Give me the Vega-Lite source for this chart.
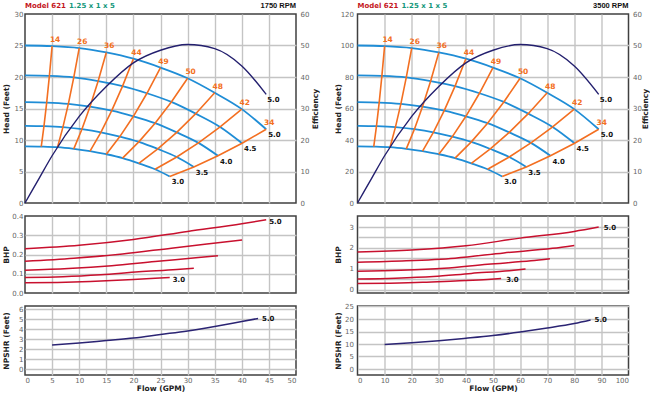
{
  "$schema": "https://vega.github.io/schema/vega-lite/v6.json",
  "background": "white",
  "padding": {"left": 1, "top": 1, "right": 0, "bottom": 0},
  "spacing": 13.5,
  "datasets": {
    "h1": [
      {"d": "5.0", "i": 0, "q": 0, "h": 25}, {"d": "5.0", "i": 1, "q": 5, "h": 24.9}, {"d": "5.0", "i": 2, "q": 10, "h": 24.6}, {"d": "5.0", "i": 3, "q": 15, "h": 23.9}, {"d": "5.0", "i": 4, "q": 20, "h": 22.9}, {"d": "5.0", "i": 5, "q": 25, "h": 21.5}, {"d": "5.0", "i": 6, "q": 30, "h": 19.8}, {"d": "5.0", "i": 7, "q": 35, "h": 17.5}, {"d": "5.0", "i": 8, "q": 40, "h": 14.9}, {"d": "5.0", "i": 9, "q": 44.5, "h": 11.7},
      {"d": "4.5", "i": 0, "q": 0, "h": 20.25}, {"d": "4.5", "i": 1, "q": 4.5, "h": 20.17}, {"d": "4.5", "i": 2, "q": 9, "h": 19.93}, {"d": "4.5", "i": 3, "q": 13.5, "h": 19.36}, {"d": "4.5", "i": 4, "q": 18, "h": 18.55}, {"d": "4.5", "i": 5, "q": 22.5, "h": 17.42}, {"d": "4.5", "i": 6, "q": 27, "h": 16.04}, {"d": "4.5", "i": 7, "q": 31.5, "h": 14.18}, {"d": "4.5", "i": 8, "q": 36, "h": 12.07}, {"d": "4.5", "i": 9, "q": 40.05, "h": 9.48},
      {"d": "4.0", "i": 0, "q": 0, "h": 16}, {"d": "4.0", "i": 1, "q": 4, "h": 15.94}, {"d": "4.0", "i": 2, "q": 8, "h": 15.74}, {"d": "4.0", "i": 3, "q": 12, "h": 15.3}, {"d": "4.0", "i": 4, "q": 16, "h": 14.66}, {"d": "4.0", "i": 5, "q": 20, "h": 13.76}, {"d": "4.0", "i": 6, "q": 24, "h": 12.67}, {"d": "4.0", "i": 7, "q": 28, "h": 11.2}, {"d": "4.0", "i": 8, "q": 32, "h": 9.54}, {"d": "4.0", "i": 9, "q": 35.6, "h": 7.49},
      {"d": "3.5", "i": 0, "q": 0, "h": 12.25}, {"d": "3.5", "i": 1, "q": 3.5, "h": 12.2}, {"d": "3.5", "i": 2, "q": 7, "h": 12.05}, {"d": "3.5", "i": 3, "q": 10.5, "h": 11.71}, {"d": "3.5", "i": 4, "q": 14, "h": 11.22}, {"d": "3.5", "i": 5, "q": 17.5, "h": 10.54}, {"d": "3.5", "i": 6, "q": 21, "h": 9.7}, {"d": "3.5", "i": 7, "q": 24.5, "h": 8.58}, {"d": "3.5", "i": 8, "q": 28, "h": 7.3}, {"d": "3.5", "i": 9, "q": 31.15, "h": 5.73},
      {"d": "3.0", "i": 0, "q": 0, "h": 9}, {"d": "3.0", "i": 1, "q": 3, "h": 8.96}, {"d": "3.0", "i": 2, "q": 6, "h": 8.86}, {"d": "3.0", "i": 3, "q": 9, "h": 8.6}, {"d": "3.0", "i": 4, "q": 12, "h": 8.24}, {"d": "3.0", "i": 5, "q": 15, "h": 7.74}, {"d": "3.0", "i": 6, "q": 18, "h": 7.13}, {"d": "3.0", "i": 7, "q": 21, "h": 6.3}, {"d": "3.0", "i": 8, "q": 24, "h": 5.36}, {"d": "3.0", "i": 9, "q": 26.7, "h": 4.21}
    ],
    "h2": [
      {"d": "5.0", "i": 0, "q": 0, "h": 100}, {"d": "5.0", "i": 1, "q": 10, "h": 99.6}, {"d": "5.0", "i": 2, "q": 20, "h": 98.4}, {"d": "5.0", "i": 3, "q": 30, "h": 95.6}, {"d": "5.0", "i": 4, "q": 40, "h": 91.6}, {"d": "5.0", "i": 5, "q": 50, "h": 86}, {"d": "5.0", "i": 6, "q": 60, "h": 79.2}, {"d": "5.0", "i": 7, "q": 70, "h": 70}, {"d": "5.0", "i": 8, "q": 80, "h": 59.6}, {"d": "5.0", "i": 9, "q": 89, "h": 46.8},
      {"d": "4.5", "i": 0, "q": 0, "h": 81}, {"d": "4.5", "i": 1, "q": 9, "h": 80.68}, {"d": "4.5", "i": 2, "q": 18, "h": 79.72}, {"d": "4.5", "i": 3, "q": 27, "h": 77.44}, {"d": "4.5", "i": 4, "q": 36, "h": 74.2}, {"d": "4.5", "i": 5, "q": 45, "h": 69.68}, {"d": "4.5", "i": 6, "q": 54, "h": 64.16}, {"d": "4.5", "i": 7, "q": 63, "h": 56.72}, {"d": "4.5", "i": 8, "q": 72, "h": 48.28}, {"d": "4.5", "i": 9, "q": 80.1, "h": 37.92},
      {"d": "4.0", "i": 0, "q": 0, "h": 64}, {"d": "4.0", "i": 1, "q": 8, "h": 63.76}, {"d": "4.0", "i": 2, "q": 16, "h": 62.96}, {"d": "4.0", "i": 3, "q": 24, "h": 61.2}, {"d": "4.0", "i": 4, "q": 32, "h": 58.64}, {"d": "4.0", "i": 5, "q": 40, "h": 55.04}, {"d": "4.0", "i": 6, "q": 48, "h": 50.68}, {"d": "4.0", "i": 7, "q": 56, "h": 44.8}, {"d": "4.0", "i": 8, "q": 64, "h": 38.16}, {"d": "4.0", "i": 9, "q": 71.2, "h": 29.96},
      {"d": "3.5", "i": 0, "q": 0, "h": 49}, {"d": "3.5", "i": 1, "q": 7, "h": 48.8}, {"d": "3.5", "i": 2, "q": 14, "h": 48.2}, {"d": "3.5", "i": 3, "q": 21, "h": 46.84}, {"d": "3.5", "i": 4, "q": 28, "h": 44.88}, {"d": "3.5", "i": 5, "q": 35, "h": 42.16}, {"d": "3.5", "i": 6, "q": 42, "h": 38.8}, {"d": "3.5", "i": 7, "q": 49, "h": 34.3}, {"d": "3.5", "i": 8, "q": 56, "h": 29.2}, {"d": "3.5", "i": 9, "q": 62.3, "h": 22.92},
      {"d": "3.0", "i": 0, "q": 0, "h": 36}, {"d": "3.0", "i": 1, "q": 6, "h": 35.84}, {"d": "3.0", "i": 2, "q": 12, "h": 35.44}, {"d": "3.0", "i": 3, "q": 18, "h": 34.4}, {"d": "3.0", "i": 4, "q": 24, "h": 32.96}, {"d": "3.0", "i": 5, "q": 30, "h": 30.96}, {"d": "3.0", "i": 6, "q": 36, "h": 28.52}, {"d": "3.0", "i": 7, "q": 42, "h": 25.2}, {"d": "3.0", "i": 8, "q": 48, "h": 21.44}, {"d": "3.0", "i": 9, "q": 53.4, "h": 16.84}
    ],
    "l1": [
      {"q": 5, "h": 24.9, "t": "14"}, {"q": 10, "h": 24.6, "t": "26"}, {"q": 15, "h": 23.9, "t": "36"}, {"q": 20, "h": 22.9, "t": "44"}, {"q": 25, "h": 21.5, "t": "49"}, {"q": 30, "h": 19.8, "t": "50"}, {"q": 35, "h": 17.5, "t": "48"}, {"q": 40, "h": 14.9, "t": "42"}, {"q": 44.5, "h": 11.7, "t": "34"}
    ],
    "l2": [
      {"q": 10, "h": 99.6, "t": "14"}, {"q": 20, "h": 98.4, "t": "26"}, {"q": 30, "h": 95.6, "t": "36"}, {"q": 40, "h": 91.6, "t": "44"}, {"q": 50, "h": 86, "t": "49"}, {"q": 60, "h": 79.2, "t": "50"}, {"q": 70, "h": 70, "t": "48"}, {"q": 80, "h": 59.6, "t": "42"}, {"q": 89, "h": 46.8, "t": "34"}
    ],
    "e1": [
      {"q": 0, "e": 0}, {"q": 2.5, "e": 7.5}, {"q": 5, "e": 15}, {"q": 10, "e": 27.5}, {"q": 15, "e": 37}, {"q": 20, "e": 44.5}, {"q": 25, "e": 48.5}, {"q": 30, "e": 50.3}, {"q": 35, "e": 49}, {"q": 40, "e": 43.5}, {"q": 44.5, "e": 34.5}
    ],
    "e2": [
      {"q": 0, "e": 0}, {"q": 5, "e": 7.5}, {"q": 10, "e": 15}, {"q": 20, "e": 27.5}, {"q": 30, "e": 37}, {"q": 40, "e": 44.5}, {"q": 50, "e": 48.5}, {"q": 60, "e": 50.3}, {"q": 70, "e": 49}, {"q": 80, "e": 43.5}, {"q": 89, "e": 34.5}
    ],
    "b1": [
      {"d": "5.0", "q": 0, "p": 0.23}, {"d": "5.0", "q": 10, "p": 0.248}, {"d": "5.0", "q": 20, "p": 0.278}, {"d": "5.0", "q": 30, "p": 0.32}, {"d": "5.0", "q": 40, "p": 0.36}, {"d": "5.0", "q": 44.5, "p": 0.38},
      {"d": "4.5", "q": 0, "p": 0.165}, {"d": "4.5", "q": 9, "p": 0.181}, {"d": "4.5", "q": 18, "p": 0.203}, {"d": "4.5", "q": 27, "p": 0.233}, {"d": "4.5", "q": 36, "p": 0.262}, {"d": "4.5", "q": 40.05, "p": 0.275},
      {"d": "4.0", "q": 0, "p": 0.118}, {"d": "4.0", "q": 8, "p": 0.127}, {"d": "4.0", "q": 16, "p": 0.142}, {"d": "4.0", "q": 24, "p": 0.164}, {"d": "4.0", "q": 32, "p": 0.184}, {"d": "4.0", "q": 35.6, "p": 0.194},
      {"d": "3.5", "q": 0, "p": 0.081}, {"d": "3.5", "q": 7, "p": 0.085}, {"d": "3.5", "q": 14, "p": 0.095}, {"d": "3.5", "q": 21, "p": 0.11}, {"d": "3.5", "q": 28, "p": 0.122}, {"d": "3.5", "q": 31.15, "p": 0.129},
      {"d": "3.0", "q": 0, "p": 0.053}, {"d": "3.0", "q": 6, "p": 0.055}, {"d": "3.0", "q": 12, "p": 0.06}, {"d": "3.0", "q": 18, "p": 0.068}, {"d": "3.0", "q": 24, "p": 0.076}, {"d": "3.0", "q": 26.7, "p": 0.08}
    ],
    "b2": [
      {"d": "5.0", "q": 0, "p": 1.8}, {"d": "5.0", "q": 20, "p": 1.9}, {"d": "5.0", "q": 40, "p": 2.1}, {"d": "5.0", "q": 60, "p": 2.47}, {"d": "5.0", "q": 80, "p": 2.79}, {"d": "5.0", "q": 89, "p": 3.0},
      {"d": "4.5", "q": 0, "p": 1.31}, {"d": "4.5", "q": 18, "p": 1.38}, {"d": "4.5", "q": 36, "p": 1.51}, {"d": "4.5", "q": 54, "p": 1.76}, {"d": "4.5", "q": 72, "p": 1.98}, {"d": "4.5", "q": 80, "p": 2.12},
      {"d": "4.0", "q": 0, "p": 0.88}, {"d": "4.0", "q": 16, "p": 0.93}, {"d": "4.0", "q": 32, "p": 1.03}, {"d": "4.0", "q": 48, "p": 1.22}, {"d": "4.0", "q": 64, "p": 1.38}, {"d": "4.0", "q": 71, "p": 1.48},
      {"d": "3.5", "q": 0, "p": 0.51}, {"d": "3.5", "q": 14, "p": 0.55}, {"d": "3.5", "q": 28, "p": 0.63}, {"d": "3.5", "q": 42, "p": 0.78}, {"d": "3.5", "q": 56, "p": 0.91}, {"d": "3.5", "q": 62, "p": 0.99},
      {"d": "3.0", "q": 0, "p": 0.29}, {"d": "3.0", "q": 12, "p": 0.31}, {"d": "3.0", "q": 24, "p": 0.35}, {"d": "3.0", "q": 36, "p": 0.42}, {"d": "3.0", "q": 48, "p": 0.49}, {"d": "3.0", "q": 53, "p": 0.53}
    ],
    "n1": [
      {"q": 5, "n": 2.4}, {"q": 10, "n": 2.6}, {"q": 15, "n": 2.85}, {"q": 20, "n": 3.1}, {"q": 25, "n": 3.45}, {"q": 30, "n": 3.8}, {"q": 35, "n": 4.25}, {"q": 40, "n": 4.75}, {"q": 43, "n": 5.05}
    ],
    "n2": [
      {"q": 10, "n": 9.8}, {"q": 20, "n": 10.5}, {"q": 30, "n": 11.3}, {"q": 40, "n": 12.3}, {"q": 50, "n": 13.4}, {"q": 60, "n": 14.8}, {"q": 70, "n": 16.4}, {"q": 80, "n": 18.2}, {"q": 86, "n": 19.6}
    ]
  },
  "hconcat": [
    {
      "spacing": 13,
      "bounds": "flush",
      "vconcat": [
        {
          "width": 271,
          "height": 189,
          "layer": [
            {
              "layer": [
                {
                  "data": {"name": "h1"},
                  "mark": {"type": "line", "color": "#1f8dd6", "strokeWidth": 1.8, "interpolate": "monotone"},
                  "encoding": {
                    "x": {"field": "q", "type": "quantitative", "scale": {"domain": [0, 50], "nice": false, "zero": false},
                      "axis": {"values": [5, 10, 15, 20, 25, 30, 35, 40, 45], "tickCount": 50, "labels": false, "title": null}},
                    "y": {"field": "h", "type": "quantitative", "scale": {"domain": [0, 30], "nice": false},
                      "axis": {"values": [0, 5, 10, 15, 20, 25, 30], "tickCount": 50, "format": "d", "title": "Head (Feet)", "titleX": -19,
                        "gridOpacity": {"condition": {"test": "datum.value <= 0 || datum.value >= 30", "value": 0}, "value": 1}}},
                    "detail": {"field": "d", "type": "nominal"}
                  }
                },
                {
                  "data": {"name": "h1"},
                  "transform": [{"filter": "datum.i > 0"}],
                  "mark": {"type": "line", "color": "#f36f21", "strokeWidth": 1.6},
                  "encoding": {
                    "x": {"field": "q", "type": "quantitative"},
                    "y": {"field": "h", "type": "quantitative"},
                    "detail": {"field": "i", "type": "nominal"}
                  }
                },
                {
                  "data": {"name": "l1"},
                  "mark": {"type": "text", "color": "#f36f21", "fontSize": 7.5, "align": "center", "baseline": "middle", "dx": 3, "dy": -6},
                  "encoding": {
                    "x": {"field": "q", "type": "quantitative"},
                    "y": {"field": "h", "type": "quantitative"},
                    "text": {"field": "t"}
                  }
                },
                {
                  "data": {"name": "h1"},
                  "transform": [{"filter": "datum.i == 9"}],
                  "mark": {"type": "text", "color": "#111111", "align": "left", "baseline": "top", "dx": 2, "dy": 2},
                  "encoding": {
                    "x": {"field": "q", "type": "quantitative"},
                    "y": {"field": "h", "type": "quantitative"},
                    "text": {"field": "d"}
                  }
                },
                {
                  "data": {"values": [{"q": 0, "h": 30, "t": "Model 621"}]},
                  "mark": {"type": "text", "color": "#c4161c", "align": "left", "baseline": "middle", "dy": -8},
                  "encoding": {"x": {"field": "q", "type": "quantitative"}, "y": {"field": "h", "type": "quantitative"}, "text": {"field": "t"}}
                },
                {
                  "data": {"values": [{"q": 0, "h": 30, "t": "1.25 x 1 x 5"}]},
                  "mark": {"type": "text", "color": "#14977b", "align": "left", "baseline": "middle", "dy": -8, "dx": 44},
                  "encoding": {"x": {"field": "q", "type": "quantitative"}, "y": {"field": "h", "type": "quantitative"}, "text": {"field": "t"}}
                },
                {
                  "data": {"values": [{"q": 50, "h": 30, "t": "1750 RPM"}]},
                  "mark": {"type": "text", "color": "#111111", "align": "right", "baseline": "middle", "dy": -8, "font": "Liberation Sans", "fontSize": 7.5},
                  "encoding": {"x": {"field": "q", "type": "quantitative"}, "y": {"field": "h", "type": "quantitative"}, "text": {"field": "t"}}
                }
              ]
            },
            {
              "layer": [
                {
                  "data": {"name": "e1"},
                  "mark": {"type": "line", "color": "#231f6e", "strokeWidth": 1.4, "interpolate": "monotone"},
                  "encoding": {
                    "x": {"field": "q", "type": "quantitative"},
                    "y": {"field": "e", "type": "quantitative", "scale": {"domain": [0, 60], "nice": false},
                      "axis": {"orient": "right", "values": [0, 10, 20, 30, 40, 50, 60], "tickCount": 50, "format": "d", "grid": false, "title": "Efficiency", "titleX": 19, "titleAngle": 270, "labelPadding": 4}}
                  }
                },
                {
                  "data": {"name": "e1"},
                  "transform": [{"filter": "datum.q == 44.5"}],
                  "mark": {"type": "text", "color": "#111111", "align": "left", "baseline": "top", "dx": 1, "dy": 2},
                  "encoding": {
                    "x": {"field": "q", "type": "quantitative"},
                    "y": {"field": "e", "type": "quantitative"},
                    "text": {"value": "5.0"}
                  }
                }
              ]
            }
          ],
          "resolve": {"scale": {"y": "independent"}}
        },
        {
          "width": 271,
          "height": 77,
          "layer": [
            {
              "data": {"name": "b1"},
              "mark": {"type": "line", "color": "#c8102e", "strokeWidth": 1.5, "interpolate": "monotone"},
              "encoding": {
                "x": {"field": "q", "type": "quantitative", "scale": {"domain": [0, 50], "nice": false, "zero": false},
                  "axis": {"values": [5, 10, 15, 20, 25, 30, 35, 40, 45], "tickCount": 50, "labels": false, "title": null}},
                "y": {"field": "p", "type": "quantitative", "scale": {"domain": [0, 0.4], "nice": false},
                  "axis": {"values": [0, 0.1, 0.2, 0.3, 0.4], "tickCount": 50, "format": ".1f", "title": "BHP", "titleX": -19,
                    "gridOpacity": {"condition": {"test": "datum.value <= 0 || datum.value >= 0.4", "value": 0}, "value": 1}}},
                "detail": {"field": "d", "type": "nominal"}
              }
            },
            {
              "data": {"name": "b1"},
              "transform": [
                {"joinaggregate": [{"op": "max", "field": "q", "as": "mq"}], "groupby": ["d"]},
                {"filter": "datum.q == datum.mq && (datum.d == '5.0' || datum.d == '3.0')"}
              ],
              "mark": {"type": "text", "color": "#111111", "align": "left", "baseline": "middle", "dx": 3, "dy": 2},
              "encoding": {
                "x": {"field": "q", "type": "quantitative"},
                "y": {"field": "p", "type": "quantitative"},
                "text": {"field": "d"}
              }
            }
          ]
        },
        {
          "width": 271,
          "height": 69,
          "layer": [
            {
              "data": {"name": "n1"},
              "mark": {"type": "line", "color": "#2b2473", "strokeWidth": 1.5, "interpolate": "monotone"},
              "encoding": {
                "x": {"field": "q", "type": "quantitative", "scale": {"domain": [0, 50], "nice": false, "zero": false},
                  "axis": {"values": [0, 5, 10, 15, 20, 25, 30, 35, 40, 45, 50], "tickCount": 50, "format": "d", "title": "Flow (GPM)", "labelPadding": 1, "titlePadding": 1,
                    "gridOpacity": {"condition": {"test": "datum.value <= 0 || datum.value >= 50", "value": 0}, "value": 1}}},
                "y": {"field": "n", "type": "quantitative", "scale": {"domain": [-0.6, 6.3], "nice": false, "zero": false},
                  "axis": {"values": [0, 1, 2, 3, 4, 5, 6], "tickCount": 50, "format": "d", "title": "NPSHR (Feet)", "titleX": -19}}
              }
            },
            {
              "data": {"name": "n1"},
              "transform": [{"filter": "datum.q == 43"}],
              "mark": {"type": "text", "color": "#111111", "align": "left", "baseline": "middle", "dx": 4, "dy": 0},
              "encoding": {
                "x": {"field": "q", "type": "quantitative"},
                "y": {"field": "n", "type": "quantitative"},
                "text": {"value": "5.0"}
              }
            }
          ]
        }
      ]
    },
    {
      "spacing": 13,
      "bounds": "flush",
      "vconcat": [
        {
          "width": 271,
          "height": 189,
          "layer": [
            {
              "layer": [
                {
                  "data": {"name": "h2"},
                  "mark": {"type": "line", "color": "#1f8dd6", "strokeWidth": 1.8, "interpolate": "monotone"},
                  "encoding": {
                    "x": {"field": "q", "type": "quantitative", "scale": {"domain": [0, 100], "nice": false, "zero": false},
                      "axis": {"values": [10, 20, 30, 40, 50, 60, 70, 80, 90], "tickCount": 50, "labels": false, "title": null}},
                    "y": {"field": "h", "type": "quantitative", "scale": {"domain": [0, 120], "nice": false},
                      "axis": {"values": [0, 20, 40, 60, 80, 100, 120], "tickCount": 50, "format": "d", "title": "Head (Feet)", "titleX": -19, "labelPadding": 4,
                        "gridOpacity": {"condition": {"test": "datum.value <= 0 || datum.value >= 120", "value": 0}, "value": 1}}},
                    "detail": {"field": "d", "type": "nominal"}
                  }
                },
                {
                  "data": {"name": "h2"},
                  "transform": [{"filter": "datum.i > 0"}],
                  "mark": {"type": "line", "color": "#f36f21", "strokeWidth": 1.6},
                  "encoding": {
                    "x": {"field": "q", "type": "quantitative"},
                    "y": {"field": "h", "type": "quantitative"},
                    "detail": {"field": "i", "type": "nominal"}
                  }
                },
                {
                  "data": {"name": "l2"},
                  "mark": {"type": "text", "color": "#f36f21", "fontSize": 7.5, "align": "center", "baseline": "middle", "dx": 3, "dy": -6},
                  "encoding": {
                    "x": {"field": "q", "type": "quantitative"},
                    "y": {"field": "h", "type": "quantitative"},
                    "text": {"field": "t"}
                  }
                },
                {
                  "data": {"name": "h2"},
                  "transform": [{"filter": "datum.i == 9"}],
                  "mark": {"type": "text", "color": "#111111", "align": "left", "baseline": "top", "dx": 2, "dy": 2},
                  "encoding": {
                    "x": {"field": "q", "type": "quantitative"},
                    "y": {"field": "h", "type": "quantitative"},
                    "text": {"field": "d"}
                  }
                },
                {
                  "data": {"values": [{"q": 0, "h": 120, "t": "Model 621"}]},
                  "mark": {"type": "text", "color": "#c4161c", "align": "left", "baseline": "middle", "dy": -8},
                  "encoding": {"x": {"field": "q", "type": "quantitative"}, "y": {"field": "h", "type": "quantitative"}, "text": {"field": "t"}}
                },
                {
                  "data": {"values": [{"q": 0, "h": 120, "t": "1.25 x 1 x 5"}]},
                  "mark": {"type": "text", "color": "#14977b", "align": "left", "baseline": "middle", "dy": -8, "dx": 44},
                  "encoding": {"x": {"field": "q", "type": "quantitative"}, "y": {"field": "h", "type": "quantitative"}, "text": {"field": "t"}}
                },
                {
                  "data": {"values": [{"q": 100, "h": 120, "t": "3500 RPM"}]},
                  "mark": {"type": "text", "color": "#111111", "align": "right", "baseline": "middle", "dy": -8, "font": "Liberation Sans", "fontSize": 7.5},
                  "encoding": {"x": {"field": "q", "type": "quantitative"}, "y": {"field": "h", "type": "quantitative"}, "text": {"field": "t"}}
                }
              ]
            },
            {
              "layer": [
                {
                  "data": {"name": "e2"},
                  "mark": {"type": "line", "color": "#231f6e", "strokeWidth": 1.4, "interpolate": "monotone"},
                  "encoding": {
                    "x": {"field": "q", "type": "quantitative"},
                    "y": {"field": "e", "type": "quantitative", "scale": {"domain": [0, 60], "nice": false},
                      "axis": {"orient": "right", "values": [0, 10, 20, 30, 40, 50, 60], "tickCount": 50, "format": "d", "grid": false, "title": "Efficiency", "titleX": 17, "titleAngle": 270, "labelPadding": 4}}
                  }
                },
                {
                  "data": {"name": "e2"},
                  "transform": [{"filter": "datum.q == 89"}],
                  "mark": {"type": "text", "color": "#111111", "align": "left", "baseline": "top", "dx": 1, "dy": 2},
                  "encoding": {
                    "x": {"field": "q", "type": "quantitative"},
                    "y": {"field": "e", "type": "quantitative"},
                    "text": {"value": "5.0"}
                  }
                }
              ]
            }
          ],
          "resolve": {"scale": {"y": "independent"}}
        },
        {
          "width": 271,
          "height": 77,
          "layer": [
            {
              "data": {"name": "b2"},
              "mark": {"type": "line", "color": "#c8102e", "strokeWidth": 1.5, "interpolate": "monotone"},
              "encoding": {
                "x": {"field": "q", "type": "quantitative", "scale": {"domain": [0, 100], "nice": false, "zero": false},
                  "axis": {"values": [10, 20, 30, 40, 50, 60, 70, 80, 90], "tickCount": 50, "labels": false, "title": null}},
                "y": {"field": "p", "type": "quantitative", "scale": {"domain": [-0.16, 3.53], "nice": false, "zero": false},
                  "axis": {"values": [0, 0.5, 1, 1.5, 2, 2.5, 3], "tickCount": 50, "format": ".1f", "labelExpr": "datum.value % 1 == 0 ? format(datum.value, 'd') : ''", "title": "BHP", "titleX": -19, "labelPadding": 4}},
                "detail": {"field": "d", "type": "nominal"}
              }
            },
            {
              "data": {"name": "b2"},
              "transform": [
                {"joinaggregate": [{"op": "max", "field": "q", "as": "mq"}], "groupby": ["d"]},
                {"filter": "datum.q == datum.mq && (datum.d == '5.0' || datum.d == '3.0')"}
              ],
              "mark": {"type": "text", "color": "#111111", "align": "left", "baseline": "middle", "dx": 5, "dy": 1},
              "encoding": {
                "x": {"field": "q", "type": "quantitative"},
                "y": {"field": "p", "type": "quantitative"},
                "text": {"field": "d"}
              }
            }
          ]
        },
        {
          "width": 271,
          "height": 69,
          "layer": [
            {
              "data": {"name": "n2"},
              "mark": {"type": "line", "color": "#2b2473", "strokeWidth": 1.5, "interpolate": "monotone"},
              "encoding": {
                "x": {"field": "q", "type": "quantitative", "scale": {"domain": [0, 100], "nice": false, "zero": false},
                  "axis": {"values": [0, 10, 20, 30, 40, 50, 60, 70, 80, 90, 100], "tickCount": 50, "format": "d", "title": "Flow (GPM)", "labelPadding": 1, "titlePadding": 1,
                    "gridOpacity": {"condition": {"test": "datum.value <= 0 || datum.value >= 100", "value": 0}, "value": 1}}},
                "y": {"field": "n", "type": "quantitative", "scale": {"domain": [-2.4, 25.2], "nice": false, "zero": false},
                  "axis": {"values": [0, 5, 10, 15, 20, 25], "tickCount": 50, "format": "d", "title": "NPSHR (Feet)", "titleX": -19, "labelPadding": 4}}
              }
            },
            {
              "data": {"name": "n2"},
              "transform": [{"filter": "datum.q == 86"}],
              "mark": {"type": "text", "color": "#111111", "align": "left", "baseline": "middle", "dx": 4, "dy": 0},
              "encoding": {
                "x": {"field": "q", "type": "quantitative"},
                "y": {"field": "n", "type": "quantitative"},
                "text": {"value": "5.0"}
              }
            }
          ]
        }
      ]
    }
  ],
  "config": {
    "view": {"stroke": "#404040", "strokeWidth": 1.5},
    "axis": {
      "ticks": false, "domain": false, "labelOverlap": false,
      "gridColor": "#c4c4c4", "gridWidth": 1.4,
      "labelFont": "DejaVu Sans", "labelFontSize": 7, "labelColor": "#666666", "labelPadding": 2,
      "titleFont": "DejaVu Sans", "titleFontSize": 7.5, "titleFontWeight": "bold", "titleColor": "#222222"
    },
    "axisY": {"titleBaseline": "middle", "titleAngle": 270},
    "text": {"font": "DejaVu Sans", "fontWeight": "bold", "fontSize": 7}
  }
}
